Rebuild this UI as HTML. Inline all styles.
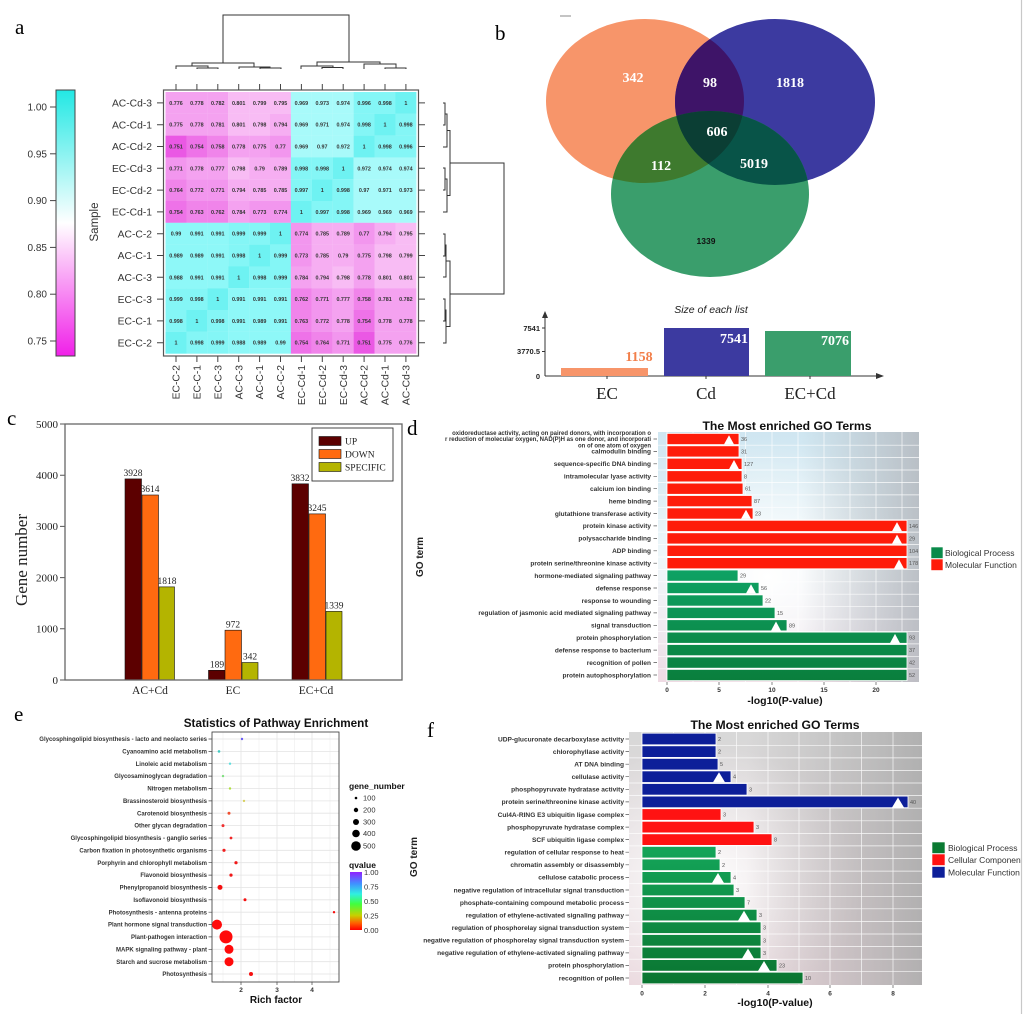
<!DOCTYPE html>
<html><head><meta charset="utf-8"><style>
html,body{margin:0;padding:0;background:#fff;}
svg{display:block;}
.s{font-family:"Liberation Sans",Arial,sans-serif;}
.r{font-family:"Liberation Serif","Times New Roman",serif;}
.hm text{font-family:"Liberation Sans",sans-serif;font-size:5.4px;font-weight:bold;fill:#333;text-anchor:middle;}
.k0{fill:#6ef2f2}.k1{fill:#84f6f6}.k2{fill:#8ef8f8}.k3{fill:#a8fafa}
.p0{fill:#f8bcf4}.p1{fill:#f6aef2}.p2{fill:#f4a2f0}.p3{fill:#f296ee}.p4{fill:#f084ea}.p5{fill:#ee72e8}.p6{fill:#ea58e4}
.lab{font-family:"Liberation Sans",sans-serif;font-weight:bold;fill:#333;text-anchor:end;}
.val{font-family:"Liberation Sans",sans-serif;fill:#555;font-size:5.5px;}
</style></head><body>
<svg width="1024" height="1014" viewBox="0 0 1024 1014" xmlns="http://www.w3.org/2000/svg">
<defs>
<linearGradient id="cbar" x1="0" y1="0" x2="0" y2="1">
<stop offset="0" stop-color="#22e8e4"/><stop offset="0.5" stop-color="#ffffff"/><stop offset="1" stop-color="#f020e8"/>
</linearGradient>
<linearGradient id="qbar" x1="0" y1="0" x2="0" y2="1">
<stop offset="0" stop-color="#9020ff"/><stop offset="0.2" stop-color="#4090ff"/><stop offset="0.38" stop-color="#30f0e0"/><stop offset="0.55" stop-color="#40ff40"/><stop offset="0.75" stop-color="#c8d000"/><stop offset="0.88" stop-color="#ff6000"/><stop offset="1" stop-color="#ff0000"/>
</linearGradient>
<linearGradient id="dBase" x1="0" y1="0" x2="0" y2="1">
<stop offset="0" stop-color="#cfe6f1"/><stop offset="0.5" stop-color="#e8f4f8"/><stop offset="1" stop-color="#efdbe4"/>
</linearGradient>
<radialGradient id="wRad" cx="0.42" cy="0.58" r="0.55">
<stop offset="0" stop-color="#fff" stop-opacity="1"/><stop offset="1" stop-color="#fff" stop-opacity="0"/>
</radialGradient>
<linearGradient id="dR" x1="0" y1="0" x2="1" y2="0">
<stop offset="0" stop-color="#b4bac0" stop-opacity="0"/><stop offset="0.55" stop-color="#b4bac0" stop-opacity="0"/><stop offset="1" stop-color="#b4b8be" stop-opacity="0.85"/>
</linearGradient>
<linearGradient id="fBase" x1="0" y1="0" x2="0" y2="1">
<stop offset="0" stop-color="#d8d8d8"/><stop offset="1" stop-color="#e8d4da"/>
</linearGradient>
<radialGradient id="fRad" cx="0.25" cy="0.6" r="0.55">
<stop offset="0" stop-color="#fff" stop-opacity="1"/><stop offset="1" stop-color="#fff" stop-opacity="0"/>
</radialGradient>
<linearGradient id="fR" x1="0" y1="0" x2="1" y2="0">
<stop offset="0" stop-color="#b0b0b0" stop-opacity="0"/><stop offset="0.4" stop-color="#b0b0b0" stop-opacity="0"/><stop offset="1" stop-color="#acacac" stop-opacity="0.9"/>
</linearGradient>
<linearGradient id="dG" gradientUnits="userSpaceOnUse" x1="0" y1="570" x2="0" y2="682">
<stop offset="0" stop-color="#0ea264"/><stop offset="1" stop-color="#0a7e3c"/>
</linearGradient>
<linearGradient id="fG" gradientUnits="userSpaceOnUse" x1="0" y1="846" x2="0" y2="985">
<stop offset="0" stop-color="#14a65a"/><stop offset="1" stop-color="#0a7430"/>
</linearGradient>
<clipPath id="cO"><ellipse cx="645" cy="101" rx="99" ry="82"/></clipPath>
<clipPath id="cB"><ellipse cx="775" cy="102" rx="100" ry="83"/></clipPath>
<clipPath id="cRight"><rect x="0" y="0" width="1021" height="1014"/></clipPath>
</defs>

<!-- ================= PANEL A ================= -->
<text class="r" x="15" y="34" font-size="21">a</text>
<rect x="56" y="90" width="19" height="266" fill="url(#cbar)" stroke="#444" stroke-width="1"/>
<g stroke="#444" stroke-width="1">
<line x1="50" y1="107" x2="56" y2="107"/><line x1="50" y1="153.8" x2="56" y2="153.8"/><line x1="50" y1="200.6" x2="56" y2="200.6"/><line x1="50" y1="247.4" x2="56" y2="247.4"/><line x1="50" y1="294.2" x2="56" y2="294.2"/><line x1="50" y1="341" x2="56" y2="341"/>
</g>
<g class="s" font-size="10" fill="#333" text-anchor="end">
<text x="47" y="110.5">1.00</text><text x="47" y="157.3">0.95</text><text x="47" y="204.1">0.90</text><text x="47" y="250.9">0.85</text><text x="47" y="297.7">0.80</text><text x="47" y="344.5">0.75</text>
</g>
<text class="s" font-size="11.5" fill="#333" text-anchor="middle" transform="translate(98,222) rotate(-90)">Sample</text>

<g class="hm">
<g transform="translate(0,92)">
<rect class="p2" x="165.5" width="21" height="21.9"/><rect class="p2" x="186.4" width="21" height="21.9"/><rect class="p2" x="207.3" width="21" height="21.9"/><rect class="p0" x="228.2" width="21" height="21.9"/><rect class="p0" x="249.1" width="21" height="21.9"/><rect class="p0" x="270" width="21" height="21.9"/><rect class="k3" x="290.9" width="21" height="21.9"/><rect class="k3" x="311.8" width="21" height="21.9"/><rect class="k3" x="332.7" width="21" height="21.9"/><rect class="k1" x="353.6" width="21" height="21.9"/><rect class="k1" x="374.5" width="21" height="21.9"/><rect class="k0" x="395.4" width="21" height="21.9"/>
<text x="176" y="12.9">0.776</text><text x="196.9" y="12.9">0.778</text><text x="217.8" y="12.9">0.782</text><text x="238.7" y="12.9">0.801</text><text x="259.6" y="12.9">0.799</text><text x="280.5" y="12.9">0.795</text><text x="301.4" y="12.9">0.969</text><text x="322.3" y="12.9">0.973</text><text x="343.2" y="12.9">0.974</text><text x="364.1" y="12.9">0.996</text><text x="385" y="12.9">0.998</text><text x="405.9" y="12.9">1</text>
</g>
<g transform="translate(0,113.8)">
<rect class="p2" x="165.5" width="21" height="21.9"/><rect class="p2" x="186.4" width="21" height="21.9"/><rect class="p2" x="207.3" width="21" height="21.9"/><rect class="p0" x="228.2" width="21" height="21.9"/><rect class="p0" x="249.1" width="21" height="21.9"/><rect class="p1" x="270" width="21" height="21.9"/><rect class="k3" x="290.9" width="21" height="21.9"/><rect class="k3" x="311.8" width="21" height="21.9"/><rect class="k3" x="332.7" width="21" height="21.9"/><rect class="k1" x="353.6" width="21" height="21.9"/><rect class="k0" x="374.5" width="21" height="21.9"/><rect class="k1" x="395.4" width="21" height="21.9"/>
<text x="176" y="12.9">0.775</text><text x="196.9" y="12.9">0.778</text><text x="217.8" y="12.9">0.781</text><text x="238.7" y="12.9">0.801</text><text x="259.6" y="12.9">0.798</text><text x="280.5" y="12.9">0.794</text><text x="301.4" y="12.9">0.969</text><text x="322.3" y="12.9">0.971</text><text x="343.2" y="12.9">0.974</text><text x="364.1" y="12.9">0.998</text><text x="385" y="12.9">1</text><text x="405.9" y="12.9">0.998</text>
</g>
<g transform="translate(0,135.6)">
<rect class="p6" x="165.5" width="21" height="21.9"/><rect class="p5" x="186.4" width="21" height="21.9"/><rect class="p4" x="207.3" width="21" height="21.9"/><rect class="p2" x="228.2" width="21" height="21.9"/><rect class="p2" x="249.1" width="21" height="21.9"/><rect class="p3" x="270" width="21" height="21.9"/><rect class="k3" x="290.9" width="21" height="21.9"/><rect class="k3" x="311.8" width="21" height="21.9"/><rect class="k3" x="332.7" width="21" height="21.9"/><rect class="k0" x="353.6" width="21" height="21.9"/><rect class="k1" x="374.5" width="21" height="21.9"/><rect class="k1" x="395.4" width="21" height="21.9"/>
<text x="176" y="12.9">0.751</text><text x="196.9" y="12.9">0.754</text><text x="217.8" y="12.9">0.758</text><text x="238.7" y="12.9">0.778</text><text x="259.6" y="12.9">0.775</text><text x="280.5" y="12.9">0.77</text><text x="301.4" y="12.9">0.969</text><text x="322.3" y="12.9">0.97</text><text x="343.2" y="12.9">0.972</text><text x="364.1" y="12.9">1</text><text x="385" y="12.9">0.998</text><text x="405.9" y="12.9">0.996</text>
</g>
<g transform="translate(0,157.4)">
<rect class="p3" x="165.5" width="21" height="21.9"/><rect class="p2" x="186.4" width="21" height="21.9"/><rect class="p2" x="207.3" width="21" height="21.9"/><rect class="p0" x="228.2" width="21" height="21.9"/><rect class="p1" x="249.1" width="21" height="21.9"/><rect class="p1" x="270" width="21" height="21.9"/><rect class="k1" x="290.9" width="21" height="21.9"/><rect class="k1" x="311.8" width="21" height="21.9"/><rect class="k0" x="332.7" width="21" height="21.9"/><rect class="k3" x="353.6" width="21" height="21.9"/><rect class="k3" x="374.5" width="21" height="21.9"/><rect class="k3" x="395.4" width="21" height="21.9"/>
<text x="176" y="12.9">0.771</text><text x="196.9" y="12.9">0.778</text><text x="217.8" y="12.9">0.777</text><text x="238.7" y="12.9">0.798</text><text x="259.6" y="12.9">0.79</text><text x="280.5" y="12.9">0.789</text><text x="301.4" y="12.9">0.998</text><text x="322.3" y="12.9">0.998</text><text x="343.2" y="12.9">1</text><text x="364.1" y="12.9">0.972</text><text x="385" y="12.9">0.974</text><text x="405.9" y="12.9">0.974</text>
</g>
<g transform="translate(0,179.2)">
<rect class="p4" x="165.5" width="21" height="21.9"/><rect class="p3" x="186.4" width="21" height="21.9"/><rect class="p3" x="207.3" width="21" height="21.9"/><rect class="p1" x="228.2" width="21" height="21.9"/><rect class="p1" x="249.1" width="21" height="21.9"/><rect class="p1" x="270" width="21" height="21.9"/><rect class="k1" x="290.9" width="21" height="21.9"/><rect class="k0" x="311.8" width="21" height="21.9"/><rect class="k1" x="332.7" width="21" height="21.9"/><rect class="k3" x="353.6" width="21" height="21.9"/><rect class="k3" x="374.5" width="21" height="21.9"/><rect class="k3" x="395.4" width="21" height="21.9"/>
<text x="176" y="12.9">0.764</text><text x="196.9" y="12.9">0.772</text><text x="217.8" y="12.9">0.771</text><text x="238.7" y="12.9">0.794</text><text x="259.6" y="12.9">0.785</text><text x="280.5" y="12.9">0.785</text><text x="301.4" y="12.9">0.997</text><text x="322.3" y="12.9">1</text><text x="343.2" y="12.9">0.998</text><text x="364.1" y="12.9">0.97</text><text x="385" y="12.9">0.971</text><text x="405.9" y="12.9">0.973</text>
</g>
<g transform="translate(0,201)">
<rect class="p5" x="165.5" width="21" height="21.9"/><rect class="p4" x="186.4" width="21" height="21.9"/><rect class="p4" x="207.3" width="21" height="21.9"/><rect class="p2" x="228.2" width="21" height="21.9"/><rect class="p3" x="249.1" width="21" height="21.9"/><rect class="p3" x="270" width="21" height="21.9"/><rect class="k0" x="290.9" width="21" height="21.9"/><rect class="k1" x="311.8" width="21" height="21.9"/><rect class="k1" x="332.7" width="21" height="21.9"/><rect class="k3" x="353.6" width="21" height="21.9"/><rect class="k3" x="374.5" width="21" height="21.9"/><rect class="k3" x="395.4" width="21" height="21.9"/>
<text x="176" y="12.9">0.754</text><text x="196.9" y="12.9">0.763</text><text x="217.8" y="12.9">0.762</text><text x="238.7" y="12.9">0.784</text><text x="259.6" y="12.9">0.773</text><text x="280.5" y="12.9">0.774</text><text x="301.4" y="12.9">1</text><text x="322.3" y="12.9">0.997</text><text x="343.2" y="12.9">0.998</text><text x="364.1" y="12.9">0.969</text><text x="385" y="12.9">0.969</text><text x="405.9" y="12.9">0.969</text>
</g>
<g transform="translate(0,222.8)">
<rect class="k2" x="165.5" width="21" height="21.9"/><rect class="k2" x="186.4" width="21" height="21.9"/><rect class="k2" x="207.3" width="21" height="21.9"/><rect class="k1" x="228.2" width="21" height="21.9"/><rect class="k1" x="249.1" width="21" height="21.9"/><rect class="k0" x="270" width="21" height="21.9"/><rect class="p3" x="290.9" width="21" height="21.9"/><rect class="p1" x="311.8" width="21" height="21.9"/><rect class="p1" x="332.7" width="21" height="21.9"/><rect class="p3" x="353.6" width="21" height="21.9"/><rect class="p1" x="374.5" width="21" height="21.9"/><rect class="p0" x="395.4" width="21" height="21.9"/>
<text x="176" y="12.9">0.99</text><text x="196.9" y="12.9">0.991</text><text x="217.8" y="12.9">0.991</text><text x="238.7" y="12.9">0.999</text><text x="259.6" y="12.9">0.999</text><text x="280.5" y="12.9">1</text><text x="301.4" y="12.9">0.774</text><text x="322.3" y="12.9">0.785</text><text x="343.2" y="12.9">0.789</text><text x="364.1" y="12.9">0.77</text><text x="385" y="12.9">0.794</text><text x="405.9" y="12.9">0.795</text>
</g>
<g transform="translate(0,244.6)">
<rect class="k2" x="165.5" width="21" height="21.9"/><rect class="k2" x="186.4" width="21" height="21.9"/><rect class="k2" x="207.3" width="21" height="21.9"/><rect class="k1" x="228.2" width="21" height="21.9"/><rect class="k0" x="249.1" width="21" height="21.9"/><rect class="k1" x="270" width="21" height="21.9"/><rect class="p3" x="290.9" width="21" height="21.9"/><rect class="p1" x="311.8" width="21" height="21.9"/><rect class="p1" x="332.7" width="21" height="21.9"/><rect class="p2" x="353.6" width="21" height="21.9"/><rect class="p0" x="374.5" width="21" height="21.9"/><rect class="p0" x="395.4" width="21" height="21.9"/>
<text x="176" y="12.9">0.989</text><text x="196.9" y="12.9">0.989</text><text x="217.8" y="12.9">0.991</text><text x="238.7" y="12.9">0.998</text><text x="259.6" y="12.9">1</text><text x="280.5" y="12.9">0.999</text><text x="301.4" y="12.9">0.773</text><text x="322.3" y="12.9">0.785</text><text x="343.2" y="12.9">0.79</text><text x="364.1" y="12.9">0.775</text><text x="385" y="12.9">0.798</text><text x="405.9" y="12.9">0.799</text>
</g>
<g transform="translate(0,266.4)">
<rect class="k2" x="165.5" width="21" height="21.9"/><rect class="k2" x="186.4" width="21" height="21.9"/><rect class="k2" x="207.3" width="21" height="21.9"/><rect class="k0" x="228.2" width="21" height="21.9"/><rect class="k1" x="249.1" width="21" height="21.9"/><rect class="k1" x="270" width="21" height="21.9"/><rect class="p2" x="290.9" width="21" height="21.9"/><rect class="p1" x="311.8" width="21" height="21.9"/><rect class="p0" x="332.7" width="21" height="21.9"/><rect class="p2" x="353.6" width="21" height="21.9"/><rect class="p0" x="374.5" width="21" height="21.9"/><rect class="p0" x="395.4" width="21" height="21.9"/>
<text x="176" y="12.9">0.988</text><text x="196.9" y="12.9">0.991</text><text x="217.8" y="12.9">0.991</text><text x="238.7" y="12.9">1</text><text x="259.6" y="12.9">0.998</text><text x="280.5" y="12.9">0.999</text><text x="301.4" y="12.9">0.784</text><text x="322.3" y="12.9">0.794</text><text x="343.2" y="12.9">0.798</text><text x="364.1" y="12.9">0.778</text><text x="385" y="12.9">0.801</text><text x="405.9" y="12.9">0.801</text>
</g>
<g transform="translate(0,288.2)">
<rect class="k1" x="165.5" width="21" height="21.9"/><rect class="k1" x="186.4" width="21" height="21.9"/><rect class="k0" x="207.3" width="21" height="21.9"/><rect class="k2" x="228.2" width="21" height="21.9"/><rect class="k2" x="249.1" width="21" height="21.9"/><rect class="k2" x="270" width="21" height="21.9"/><rect class="p4" x="290.9" width="21" height="21.9"/><rect class="p3" x="311.8" width="21" height="21.9"/><rect class="p2" x="332.7" width="21" height="21.9"/><rect class="p4" x="353.6" width="21" height="21.9"/><rect class="p2" x="374.5" width="21" height="21.9"/><rect class="p2" x="395.4" width="21" height="21.9"/>
<text x="176" y="12.9">0.999</text><text x="196.9" y="12.9">0.998</text><text x="217.8" y="12.9">1</text><text x="238.7" y="12.9">0.991</text><text x="259.6" y="12.9">0.991</text><text x="280.5" y="12.9">0.991</text><text x="301.4" y="12.9">0.762</text><text x="322.3" y="12.9">0.771</text><text x="343.2" y="12.9">0.777</text><text x="364.1" y="12.9">0.758</text><text x="385" y="12.9">0.781</text><text x="405.9" y="12.9">0.782</text>
</g>
<g transform="translate(0,310)">
<rect class="k1" x="165.5" width="21" height="21.9"/><rect class="k0" x="186.4" width="21" height="21.9"/><rect class="k1" x="207.3" width="21" height="21.9"/><rect class="k2" x="228.2" width="21" height="21.9"/><rect class="k2" x="249.1" width="21" height="21.9"/><rect class="k2" x="270" width="21" height="21.9"/><rect class="p4" x="290.9" width="21" height="21.9"/><rect class="p3" x="311.8" width="21" height="21.9"/><rect class="p2" x="332.7" width="21" height="21.9"/><rect class="p5" x="353.6" width="21" height="21.9"/><rect class="p2" x="374.5" width="21" height="21.9"/><rect class="p2" x="395.4" width="21" height="21.9"/>
<text x="176" y="12.9">0.998</text><text x="196.9" y="12.9">1</text><text x="217.8" y="12.9">0.998</text><text x="238.7" y="12.9">0.991</text><text x="259.6" y="12.9">0.989</text><text x="280.5" y="12.9">0.991</text><text x="301.4" y="12.9">0.763</text><text x="322.3" y="12.9">0.772</text><text x="343.2" y="12.9">0.778</text><text x="364.1" y="12.9">0.754</text><text x="385" y="12.9">0.778</text><text x="405.9" y="12.9">0.778</text>
</g>
<g transform="translate(0,331.8)">
<rect class="k0" x="165.5" width="21" height="21.9"/><rect class="k1" x="186.4" width="21" height="21.9"/><rect class="k1" x="207.3" width="21" height="21.9"/><rect class="k2" x="228.2" width="21" height="21.9"/><rect class="k2" x="249.1" width="21" height="21.9"/><rect class="k2" x="270" width="21" height="21.9"/><rect class="p5" x="290.9" width="21" height="21.9"/><rect class="p4" x="311.8" width="21" height="21.9"/><rect class="p3" x="332.7" width="21" height="21.9"/><rect class="p6" x="353.6" width="21" height="21.9"/><rect class="p2" x="374.5" width="21" height="21.9"/><rect class="p2" x="395.4" width="21" height="21.9"/>
<text x="176" y="12.9">1</text><text x="196.9" y="12.9">0.998</text><text x="217.8" y="12.9">0.999</text><text x="238.7" y="12.9">0.988</text><text x="259.6" y="12.9">0.989</text><text x="280.5" y="12.9">0.99</text><text x="301.4" y="12.9">0.754</text><text x="322.3" y="12.9">0.764</text><text x="343.2" y="12.9">0.771</text><text x="364.1" y="12.9">0.751</text><text x="385" y="12.9">0.775</text><text x="405.9" y="12.9">0.776</text>
</g>
</g>
<rect x="163.5" y="90" width="255" height="266" fill="none" stroke="#555" stroke-width="1.2"/>
<g stroke="#444" stroke-width="1">
<path d="M176,84V90M196.9,84V90M217.8,84V90M238.7,84V90M259.6,84V90M280.5,84V90M301.4,84V90M322.3,84V90M343.2,84V90M364.1,84V90M385,84V90M405.9,84V90"/>
<path d="M176,356V362M196.9,356V362M217.8,356V362M238.7,356V362M259.6,356V362M280.5,356V362M301.4,356V362M322.3,356V362M343.2,356V362M364.1,356V362M385,356V362M405.9,356V362"/>
<path d="M157,102.9H163.5M157,124.7H163.5M157,146.5H163.5M157,168.3H163.5M157,190.1H163.5M157,211.9H163.5M157,233.7H163.5M157,255.5H163.5M157,277.3H163.5M157,299.1H163.5M157,320.9H163.5M157,342.7H163.5"/>
<path d="M418.5,102.9H425M418.5,124.7H425M418.5,146.5H425M418.5,168.3H425M418.5,190.1H425M418.5,211.9H425M418.5,233.7H425M418.5,255.5H425M418.5,277.3H425M418.5,299.1H425M418.5,320.9H425M418.5,342.7H425"/>
</g>
<g class="s" font-size="10.3" fill="#333" text-anchor="end">
<text x="152" y="106.6">AC-Cd-3</text><text x="152" y="128.4">AC-Cd-1</text><text x="152" y="150.2">AC-Cd-2</text><text x="152" y="172">EC-Cd-3</text><text x="152" y="193.8">EC-Cd-2</text><text x="152" y="215.6">EC-Cd-1</text><text x="152" y="237.4">AC-C-2</text><text x="152" y="259.2">AC-C-1</text><text x="152" y="281">AC-C-3</text><text x="152" y="302.8">EC-C-3</text><text x="152" y="324.6">EC-C-1</text><text x="152" y="346.4">EC-C-2</text>
</g>
<g class="s" font-size="10.3" fill="#333" text-anchor="end">
<text transform="translate(179.6,365) rotate(-90)">EC-C-2</text>
<text transform="translate(200.5,365) rotate(-90)">EC-C-1</text>
<text transform="translate(221.4,365) rotate(-90)">EC-C-3</text>
<text transform="translate(242.3,365) rotate(-90)">AC-C-3</text>
<text transform="translate(263.2,365) rotate(-90)">AC-C-1</text>
<text transform="translate(284.1,365) rotate(-90)">AC-C-2</text>
<text transform="translate(305,365) rotate(-90)">EC-Cd-1</text>
<text transform="translate(325.9,365) rotate(-90)">EC-Cd-2</text>
<text transform="translate(346.8,365) rotate(-90)">EC-Cd-3</text>
<text transform="translate(367.7,365) rotate(-90)">AC-Cd-2</text>
<text transform="translate(388.6,365) rotate(-90)">AC-Cd-1</text>
<text transform="translate(409.5,365) rotate(-90)">AC-Cd-3</text>
</g>
<g fill="none" stroke="#333" stroke-width="1">
<path d="M223,63V15H349V62"/>
<path d="M192,66V63H254V67"/>
<path d="M176,69V66H208V68M197,69V68H218V69"/>
<path d="M239,69V67H270V68M260,69V68H281V69"/>
<path d="M317,66V62H380V64"/>
<path d="M301,69V66H333V67.5M322,69V67.5H343V69"/>
<path d="M364,69V64H396V68M385,69V68H406V69"/>
<path d="M443,103H445V125H443M445,114H447V147H443"/>
<path d="M443,168H445V190H443M445,179H447V212H443"/>
<path d="M447,130.5H450V195.5H447"/>
<path d="M443,234H445V256H443M445,245H446V277H443"/>
<path d="M443,299H445V321H443M445,310H446V343H443"/>
<path d="M446,261H450V326.5H446"/>
<path d="M450,163H504V294H450"/>
</g>

<!-- ================= PANEL B ================= -->
<text class="r" x="495" y="40" font-size="21">b</text>
<line x1="560" y1="16" x2="571" y2="16" stroke="#888" stroke-width="1"/>
<ellipse cx="645" cy="101" rx="99" ry="82" fill="#f7956a"/>
<ellipse cx="775" cy="102" rx="100" ry="83" fill="#3c3aa0"/>
<ellipse cx="710" cy="194" rx="99" ry="83" fill="#3a9e6c"/>
<g clip-path="url(#cO)">
<ellipse cx="775" cy="102" rx="100" ry="83" fill="#3e1468"/>
<ellipse cx="710" cy="194" rx="99" ry="83" fill="#3e7a2e"/>
</g>
<g clip-path="url(#cB)">
<ellipse cx="710" cy="194" rx="99" ry="83" fill="#085448"/>
<g clip-path="url(#cO)"><ellipse cx="710" cy="194" rx="99" ry="83" fill="#0b3e34"/></g>
</g>
<g class="r" font-size="14" font-weight="bold" fill="#fff" text-anchor="middle">
<text x="633" y="82">342</text><text x="710" y="87">98</text><text x="790" y="87">1818</text><text x="717" y="136">606</text><text x="661" y="170">112</text><text x="754" y="168">5019</text>
</g>
<text class="s" x="706" y="244" font-size="8.5" font-weight="bold" fill="#111" text-anchor="middle">1339</text>
<text class="s" x="711" y="313" font-size="10.5" font-style="italic" fill="#222" text-anchor="middle">Size of each list</text>
<g stroke="#333" stroke-width="1" fill="none">
<path d="M545,376V316"/><path d="M545,376H877"/>
<path d="M542,328H545M542,351.5H545M607,376V379M706,376V379M810,376V379"/>
</g>
<polygon points="545,311 542,318 548,318" fill="#333"/>
<polygon points="884,376 876,373 876,379" fill="#333"/>
<g class="s" font-size="7.5" font-weight="bold" fill="#222" text-anchor="end">
<text x="540" y="331">7541</text><text x="540" y="354">3770.5</text><text x="540" y="379">0</text>
</g>
<rect x="561" y="368" width="87" height="8" fill="#f7956a"/>
<rect x="664" y="328" width="85" height="48" fill="#3c3aa0"/>
<rect x="765" y="331" width="86" height="45" fill="#3a9e6c"/>
<g class="r" font-size="14" font-weight="bold" text-anchor="middle">
<text x="639" y="361" fill="#f27f4a">1158</text><text x="734" y="343" fill="#fff">7541</text><text x="835" y="345" fill="#fff">7076</text>
</g>
<g class="r" font-size="17" fill="#222" text-anchor="middle">
<text x="607" y="399">EC</text><text x="706" y="399">Cd</text><text x="810" y="399">EC+Cd</text>
</g>

<!-- ================= PANEL C ================= -->
<text class="r" x="7" y="425" font-size="21">c</text>
<g stroke="#555" stroke-width="1">
<path d="M60,424H65M60,475.2H65M60,526.4H65M60,577.6H65M60,628.8H65M60,680H65"/>
</g>
<g class="r" font-size="11" fill="#222" text-anchor="end">
<text x="58" y="428">5000</text><text x="58" y="479">4000</text><text x="58" y="530">3000</text><text x="58" y="581.5">2000</text><text x="58" y="632.5">1000</text><text x="58" y="684">0</text>
</g>
<text class="r" font-size="17" fill="#222" text-anchor="middle" transform="translate(27,560) rotate(-90)">Gene number</text>
<g stroke="#111" stroke-width="0.6">
<rect x="125" y="478.9" width="16.5" height="201.1" fill="#5c0000"/>
<rect x="142" y="495" width="16.5" height="185" fill="#ff6a10"/>
<rect x="159" y="586.9" width="15.5" height="93.1" fill="#b4b400"/>
<rect x="208.5" y="670.3" width="16.5" height="9.7" fill="#5c0000"/>
<rect x="225" y="630.2" width="16.5" height="49.8" fill="#ff6a10"/>
<rect x="242" y="662.5" width="16" height="17.5" fill="#b4b400"/>
<rect x="292" y="483.8" width="16.5" height="196.2" fill="#5c0000"/>
<rect x="309" y="513.9" width="16.5" height="166.1" fill="#ff6a10"/>
<rect x="326" y="611.4" width="16" height="68.6" fill="#b4b400"/>
</g>
<g class="r" font-size="9.5" fill="#222" text-anchor="middle">
<text x="133" y="476">3928</text><text x="150" y="492">3614</text><text x="167" y="584">1818</text>
<text x="217" y="667.5">189</text><text x="233" y="627.5">972</text><text x="250" y="659.5">342</text>
<text x="300" y="481">3832</text><text x="317" y="511">3245</text><text x="334" y="608.5">1339</text>
</g>
<rect x="65" y="424" width="337" height="256" fill="none" stroke="#666" stroke-width="1.3"/>
<g class="r" font-size="11.5" fill="#222" text-anchor="middle">
<text x="150" y="694">AC+Cd</text><text x="233" y="694">EC</text><text x="316" y="694">EC+Cd</text>
</g>
<rect x="312" y="428" width="81" height="53" fill="#fff" stroke="#333" stroke-width="0.9"/>
<g stroke="#111" stroke-width="0.6">
<rect x="319" y="436.5" width="22" height="9" fill="#5c0000"/>
<rect x="319" y="449.5" width="22" height="9" fill="#ff6a10"/>
<rect x="319" y="462.5" width="22" height="9" fill="#b4b400"/>
</g>
<g class="r" font-size="9.5" fill="#222">
<text x="345" y="444.5">UP</text><text x="345" y="457.5">DOWN</text><text x="345" y="470.5">SPECIFIC</text>
</g>

<!-- ================= PANEL D ================= -->
<text class="r" x="407" y="435" font-size="21">d</text>
<text class="s" font-size="10" font-weight="bold" fill="#222" text-anchor="middle" transform="translate(423,557) rotate(-90)">GO term</text>
<text class="s" x="787" y="430" font-size="12.2" font-weight="bold" fill="#111" text-anchor="middle">The Most enriched GO Terms</text>
<rect x="658" y="432" width="261" height="250" fill="url(#dBase)"/>
<rect x="658" y="432" width="261" height="250" fill="url(#wRad)"/>
<rect x="658" y="432" width="261" height="250" fill="url(#dR)"/>
<g stroke="#fff" stroke-width="0.7" opacity="0.9">
<path d="M667,432V682M693,432V682M719,432V682M745.5,432V682M772,432V682M798,432V682M824,432V682M850,432V682M876,432V682M902,432V682"/>
<path d="M658,445.2H919M658,457.6H919M658,470H919M658,482.5H919M658,494.9H919M658,507.3H919M658,519.7H919M658,532.1H919M658,544.6H919M658,557H919M658,569.4H919M658,581.8H919M658,594.2H919M658,606.7H919M658,619.1H919M658,631.5H919M658,643.9H919M658,656.3H919M658,668.8H919"/>
</g>
<g stroke="#fff" stroke-width="0.8">
<g fill="#fe1c0a">
<rect x="667" y="433.4" width="72" height="11.2"/><rect x="667" y="445.8" width="72" height="11.2"/><rect x="667" y="458.2" width="75" height="11.2"/><rect x="667" y="470.7" width="75" height="11.2"/><rect x="667" y="483.1" width="76" height="11.2"/><rect x="667" y="495.5" width="85" height="11.2"/><rect x="667" y="507.9" width="86" height="11.2"/><rect x="667" y="520.3" width="240" height="11.2"/><rect x="667" y="532.8" width="240" height="11.2"/><rect x="667" y="545.2" width="240" height="11.2"/><rect x="667" y="557.6" width="240" height="11.2"/>
</g>
<g fill="url(#dG)">
<rect x="667" y="570" width="71" height="11.2"/><rect x="667" y="582.4" width="92" height="11.2"/><rect x="667" y="594.9" width="96" height="11.2"/><rect x="667" y="607.3" width="108" height="11.2"/><rect x="667" y="619.7" width="120" height="11.2"/><rect x="667" y="632.1" width="240" height="11.2"/><rect x="667" y="644.5" width="240" height="11.2"/><rect x="667" y="657" width="240" height="11.2"/><rect x="667" y="669.4" width="240" height="11.2"/>
</g>
</g>
<g fill="#fff">
<polygon points="724,444.4 734,444.4 729,435.2"/><polygon points="729,469.2 739,469.2 734,460"/><polygon points="741,518.9 751,518.9 746,509.7"/><polygon points="892,531.3 902,531.3 897,522.1"/><polygon points="892,543.8 902,543.8 897,534.6"/><polygon points="894,568.6 904,568.6 899,559.4"/><polygon points="746,593.4 756,593.4 751,584.2"/><polygon points="771,630.7 781,630.7 776,621.5"/><polygon points="890,643.1 900,643.1 895,633.9"/>
</g>
<g class="val">
<text x="741" y="441">36</text><text x="741" y="453.4">31</text><text x="744" y="465.8">127</text><text x="744" y="478.3">8</text><text x="745" y="490.7">61</text><text x="754" y="503.1">87</text><text x="755" y="515.5">23</text><text x="909" y="527.9">146</text><text x="909" y="540.4">29</text><text x="909" y="552.8">104</text><text x="909" y="565.2">178</text><text x="740" y="577.6">29</text><text x="761" y="590">56</text><text x="765" y="602.5">22</text><text x="777" y="614.9">15</text><text x="789" y="627.3">89</text><text x="909" y="639.7">93</text><text x="909" y="652.1">37</text><text x="909" y="664.6">42</text><text x="909" y="677">52</text>
</g>
<g stroke="#555" stroke-width="0.7">
<path d="M653.5,439H657M653.5,451.4H657M653.5,463.8H657M653.5,476.3H657M653.5,488.7H657M653.5,501.1H657M653.5,513.5H657M653.5,525.9H657M653.5,538.4H657M653.5,550.8H657M653.5,563.2H657M653.5,575.6H657M653.5,588H657M653.5,600.5H657M653.5,612.9H657M653.5,625.3H657M653.5,637.7H657M653.5,650.1H657M653.5,662.6H657M653.5,675H657"/>
<path d="M667,682V685M719,682V685M772,682V685M824,682V685M876,682V685"/>
</g>
<g class="lab" font-size="6">
<text x="651" y="435">oxidoreductase activity, acting on paired donors, with incorporation o</text>
<text x="651" y="441.2">r reduction of molecular oxygen, NAD(P)H as one donor, and incorporati</text>
<text x="651" y="447.6">on of one atom of oxygen</text>
</g>
<g class="lab" font-size="6.5">
<text x="651" y="453.7">calmodulin binding</text><text x="651" y="466.1">sequence-specific DNA binding</text><text x="651" y="478.6">intramolecular lyase activity</text><text x="651" y="491">calcium ion binding</text><text x="651" y="503.4">heme binding</text><text x="651" y="515.8">glutathione transferase activity</text><text x="651" y="528.2">protein kinase activity</text><text x="651" y="540.7">polysaccharide binding</text><text x="651" y="553.1">ADP binding</text><text x="651" y="565.5">protein serine/threonine kinase activity</text><text x="651" y="577.9">hormone-mediated signaling pathway</text><text x="651" y="590.3">defense response</text><text x="651" y="602.8">response to wounding</text><text x="651" y="615.2">regulation of jasmonic acid mediated signaling pathway</text><text x="651" y="627.6">signal transduction</text><text x="651" y="640">protein phosphorylation</text><text x="651" y="652.4">defense response to bacterium</text><text x="651" y="664.9">recognition of pollen</text><text x="651" y="677.3">protein autophosphorylation</text>
</g>
<g class="s" font-size="6.5" font-weight="bold" fill="#333" text-anchor="middle">
<text x="667" y="692">0</text><text x="719" y="692">5</text><text x="772" y="692">10</text><text x="824" y="692">15</text><text x="876" y="692">20</text>
</g>
<text class="s" x="785" y="704" font-size="10.5" font-weight="bold" fill="#111" text-anchor="middle">-log10(P-value)</text>
<rect x="931" y="547" width="12" height="11.5" fill="#0a8a4a" stroke="#fff" stroke-width="0.6"/>
<rect x="931" y="559" width="12" height="11.5" fill="#fe1c0a" stroke="#fff" stroke-width="0.6"/>
<g class="s" font-size="8.5" fill="#333">
<text x="945" y="556">Biological Process</text><text x="945" y="568">Molecular Function</text>
</g>

<!-- ================= PANEL E ================= -->
<text class="r" x="14" y="721" font-size="21">e</text>
<text class="s" x="276" y="727" font-size="11.7" font-weight="bold" fill="#111" text-anchor="middle">Statistics of Pathway Enrichment</text>
<rect x="212" y="732" width="127" height="250" fill="#fff"/>
<g stroke="#f0f0f0" stroke-width="0.7">
<path d="M223,732V982M259,732V982M294.5,732V982M330,732V982"/>
</g>
<g stroke="#e4e4e4" stroke-width="0.8">
<path d="M241,732V982M277,732V982M312,732V982"/>
<path d="M212,739H339M212,751.4H339M212,763.7H339M212,776.1H339M212,788.5H339M212,800.9H339M212,813.2H339M212,825.6H339M212,838H339M212,850.3H339M212,862.7H339M212,875.1H339M212,887.4H339M212,899.8H339M212,912.2H339M212,924.6H339M212,936.9H339M212,949.3H339M212,961.7H339M212,974H339"/>
</g>
<rect x="212" y="732" width="127" height="250" fill="none" stroke="#333" stroke-width="0.8"/>
<g>
<circle cx="242" cy="739" r="1.2" fill="#6a5cf5"/>
<circle cx="219" cy="751.4" r="1.3" fill="#40c8c0"/>
<circle cx="230" cy="763.7" r="1.2" fill="#60dede"/>
<circle cx="223" cy="776.1" r="1.2" fill="#80e080"/>
<circle cx="230" cy="788.5" r="1.2" fill="#b0e040"/>
<circle cx="244" cy="800.9" r="1.2" fill="#d8d060"/>
<circle cx="229" cy="813.2" r="1.5" fill="#f05030"/>
<circle cx="223" cy="825.6" r="1.5" fill="#f03030"/>
<circle cx="231" cy="838" r="1.4" fill="#f02828"/>
<circle cx="224" cy="850.3" r="1.6" fill="#f02020"/>
<circle cx="236" cy="862.7" r="1.6" fill="#f01818"/>
<circle cx="231" cy="875.1" r="1.6" fill="#f01818"/>
<circle cx="220" cy="887.4" r="2.5" fill="#f51010"/>
<circle cx="245" cy="899.8" r="1.5" fill="#f51010"/>
<circle cx="334" cy="912.2" r="1.2" fill="#f51010"/>
<circle cx="217" cy="924.6" r="5" fill="#ff0a0a"/>
<circle cx="226" cy="936.9" r="6.5" fill="#ff0a0a"/>
<circle cx="229" cy="949.3" r="4.5" fill="#ff0a0a"/>
<circle cx="229" cy="961.7" r="4.5" fill="#ff0a0a"/>
<circle cx="251" cy="974" r="2" fill="#f51010"/>
</g>
<g stroke="#444" stroke-width="0.7">
<path d="M208.5,739H212M208.5,751.4H212M208.5,763.7H212M208.5,776.1H212M208.5,788.5H212M208.5,800.9H212M208.5,813.2H212M208.5,825.6H212M208.5,838H212M208.5,850.3H212M208.5,862.7H212M208.5,875.1H212M208.5,887.4H212M208.5,899.8H212M208.5,912.2H212M208.5,924.6H212M208.5,936.9H212M208.5,949.3H212M208.5,961.7H212M208.5,974H212"/>
<path d="M241,982V985M277,982V985M312,982V985"/>
</g>
<g class="lab" font-size="6">
<text x="207" y="741.1">Glycosphingolipid biosynthesis - lacto and neolacto series</text><text x="207" y="753.5">Cyanoamino acid metabolism</text><text x="207" y="765.8">Linoleic acid metabolism</text><text x="207" y="778.2">Glycosaminoglycan degradation</text><text x="207" y="790.6">Nitrogen metabolism</text><text x="207" y="803">Brassinosteroid biosynthesis</text><text x="207" y="815.3">Carotenoid biosynthesis</text><text x="207" y="827.7">Other glycan degradation</text><text x="207" y="840.1">Glycosphingolipid biosynthesis - ganglio series</text><text x="207" y="852.4">Carbon fixation in photosynthetic organisms</text><text x="207" y="864.8">Porphyrin and chlorophyll metabolism</text><text x="207" y="877.2">Flavonoid biosynthesis</text><text x="207" y="889.5">Phenylpropanoid biosynthesis</text><text x="207" y="901.9">Isoflavonoid biosynthesis</text><text x="207" y="914.3">Photosynthesis - antenna proteins</text><text x="207" y="926.7">Plant hormone signal transduction</text><text x="207" y="939">Plant-pathogen interaction</text><text x="207" y="951.4">MAPK signaling pathway - plant</text><text x="207" y="963.8">Starch and sucrose metabolism</text><text x="207" y="976.1">Photosynthesis</text>
</g>
<g class="s" font-size="6.5" font-weight="bold" fill="#333" text-anchor="middle">
<text x="241" y="992">2</text><text x="277" y="992">3</text><text x="312" y="992">4</text>
</g>
<text class="s" x="276" y="1003" font-size="10" font-weight="bold" fill="#111" text-anchor="middle">Rich factor</text>
<text class="s" x="349" y="789" font-size="8.5" font-weight="bold" fill="#111">gene_number</text>
<g fill="#000">
<circle cx="356" cy="798" r="1.3"/><circle cx="356" cy="810" r="2.2"/><circle cx="356" cy="822" r="3"/><circle cx="356" cy="833.5" r="3.8"/><circle cx="356" cy="846" r="4.8"/>
</g>
<g class="s" font-size="7.5" fill="#333">
<text x="363" y="800.7">100</text><text x="363" y="812.7">200</text><text x="363" y="824.7">300</text><text x="363" y="836.2">400</text><text x="363" y="848.7">500</text>
</g>
<text class="s" x="349" y="868" font-size="8.5" font-weight="bold" fill="#111">qvalue</text>
<rect x="350" y="872" width="12" height="58" fill="url(#qbar)"/>
<g class="s" font-size="7.5" fill="#333">
<text x="364" y="875">1.00</text><text x="364" y="889.5">0.75</text><text x="364" y="904">0.50</text><text x="364" y="918.5">0.25</text><text x="364" y="933">0.00</text>
</g>

<!-- ================= PANEL F ================= -->
<text class="r" x="427" y="737" font-size="21">f</text>
<text class="s" font-size="10" font-weight="bold" fill="#222" text-anchor="middle" transform="translate(417,857) rotate(-90)">GO term</text>
<text class="s" x="775" y="729" font-size="12.2" font-weight="bold" fill="#111" text-anchor="middle">The Most enriched GO Terms</text>
<rect x="629" y="732" width="293" height="253" fill="url(#fBase)"/>
<rect x="629" y="732" width="293" height="253" fill="url(#fRad)"/>
<rect x="629" y="732" width="293" height="253" fill="url(#fR)"/>
<g stroke="#fff" stroke-width="0.7" opacity="0.9">
<path d="M642,732V985M673.5,732V985M705,732V985M736.5,732V985M768,732V985M799,732V985M830,732V985M861.5,732V985M893,732V985"/>
<path d="M629,745.3H922M629,757.9H922M629,770.5H922M629,783H922M629,795.6H922M629,808.2H922M629,820.8H922M629,833.4H922M629,845.9H922M629,858.5H922M629,871.1H922M629,883.7H922M629,896.3H922M629,908.8H922M629,921.4H922M629,934H922M629,946.6H922M629,959.2H922M629,971.7H922"/>
</g>
<g stroke="#fff" stroke-width="0.8">
<g fill="#0d1f99">
<rect x="642" y="733.2" width="74" height="11.6"/><rect x="642" y="745.8" width="74" height="11.6"/><rect x="642" y="758.4" width="76" height="11.6"/><rect x="642" y="770.9" width="89" height="11.6"/><rect x="642" y="783.5" width="105" height="11.6"/><rect x="642" y="796.1" width="266" height="11.6"/>
</g>
<g fill="#ff1212">
<rect x="642" y="808.7" width="79" height="11.6"/><rect x="642" y="821.3" width="112" height="11.6"/><rect x="642" y="833.8" width="130" height="11.6"/>
</g>
<g fill="url(#fG)">
<rect x="642" y="846.4" width="74" height="11.6"/><rect x="642" y="859" width="78" height="11.6"/><rect x="642" y="871.6" width="89" height="11.6"/><rect x="642" y="884.2" width="92" height="11.6"/><rect x="642" y="896.7" width="103" height="11.6"/><rect x="642" y="909.3" width="115" height="11.6"/><rect x="642" y="921.9" width="119" height="11.6"/><rect x="642" y="934.5" width="119" height="11.6"/><rect x="642" y="947.1" width="119" height="11.6"/><rect x="642" y="959.6" width="135" height="11.6"/><rect x="642" y="972.2" width="161" height="11.6"/>
</g>
</g>
<g fill="#fff">
<polygon points="713,782.3 725,782.3 719,772.3"/><polygon points="892,807.5 904,807.5 898,797.5"/><polygon points="712,883 724,883 718,873"/><polygon points="738,920.7 750,920.7 744,910.7"/><polygon points="742,958.5 754,958.5 748,948.5"/><polygon points="758,971 770,971 764,961"/>
</g>
<g class="val">
<text x="718" y="741">2</text><text x="718" y="753.6">2</text><text x="720" y="766.2">5</text><text x="733" y="778.7">4</text><text x="749" y="791.3">3</text><text x="910" y="803.9">40</text><text x="723" y="816.5">3</text><text x="756" y="829.1">3</text><text x="774" y="841.6">8</text><text x="718" y="854.2">2</text><text x="722" y="866.8">2</text><text x="733" y="879.4">4</text><text x="736" y="892">3</text><text x="747" y="904.5">7</text><text x="759" y="917.1">3</text><text x="763" y="929.7">3</text><text x="763" y="942.3">3</text><text x="763" y="954.9">3</text><text x="779" y="967.4">23</text><text x="805" y="980">10</text>
</g>
<g stroke="#555" stroke-width="0.7">
<path d="M625.5,739H629M625.5,751.6H629M625.5,764.2H629M625.5,776.7H629M625.5,789.3H629M625.5,801.9H629M625.5,814.5H629M625.5,827.1H629M625.5,839.6H629M625.5,852.2H629M625.5,864.8H629M625.5,877.4H629M625.5,890H629M625.5,902.5H629M625.5,915.1H629M625.5,927.7H629M625.5,940.3H629M625.5,952.9H629M625.5,965.4H629M625.5,978H629"/>
<path d="M642,985V988M705,985V988M768,985V988M830,985V988M893,985V988"/>
</g>
<g class="lab" font-size="6.6">
<text x="624" y="741.3">UDP-glucuronate decarboxylase activity</text><text x="624" y="753.9">chlorophyllase activity</text><text x="624" y="766.5">AT DNA binding</text><text x="624" y="779">cellulase activity</text><text x="624" y="791.6">phosphopyruvate hydratase activity</text><text x="624" y="804.2">protein serine/threonine kinase activity</text><text x="624" y="816.8">Cul4A-RING E3 ubiquitin ligase complex</text><text x="624" y="829.4">phosphopyruvate hydratase complex</text><text x="624" y="841.9">SCF ubiquitin ligase complex</text><text x="624" y="854.5">regulation of cellular response to heat</text><text x="624" y="867.1">chromatin assembly or disassembly</text><text x="624" y="879.7">cellulose catabolic process</text><text x="624" y="892.3">negative regulation of intracellular signal transduction</text><text x="624" y="904.8">phosphate-containing compound metabolic process</text><text x="624" y="917.4">regulation of ethylene-activated signaling pathway</text><text x="624" y="930">regulation of phosphorelay signal transduction system</text><text x="624" y="942.6">negative regulation of phosphorelay signal transduction system</text><text x="624" y="955.2">negative regulation of ethylene-activated signaling pathway</text><text x="624" y="967.7">protein phosphorylation</text><text x="624" y="980.3">recognition of pollen</text>
</g>
<g class="s" font-size="6.5" font-weight="bold" fill="#333" text-anchor="middle">
<text x="642" y="995.5">0</text><text x="705" y="995.5">2</text><text x="768" y="995.5">4</text><text x="830" y="995.5">6</text><text x="893" y="995.5">8</text>
</g>
<text class="s" x="775" y="1006" font-size="10.5" font-weight="bold" fill="#111" text-anchor="middle">-log10(P-value)</text>
<rect x="932" y="842" width="13" height="11.5" fill="#0a7a32" stroke="#fff" stroke-width="0.6"/>
<rect x="932" y="854" width="13" height="11.5" fill="#ff1212" stroke="#fff" stroke-width="0.6"/>
<rect x="932" y="866.5" width="13" height="11.5" fill="#0d1f99" stroke="#fff" stroke-width="0.6"/>
<g class="s" font-size="8.5" fill="#333" clip-path="url(#cRight)">
<text x="948" y="851">Biological Process</text><text x="948" y="863">Cellular Component</text><text x="948" y="875.5">Molecular Function</text>
</g>

<line x1="1021.5" y1="0" x2="1021.5" y2="1014" stroke="#c8c8c8" stroke-width="1.2"/>
</svg>
</body></html>
